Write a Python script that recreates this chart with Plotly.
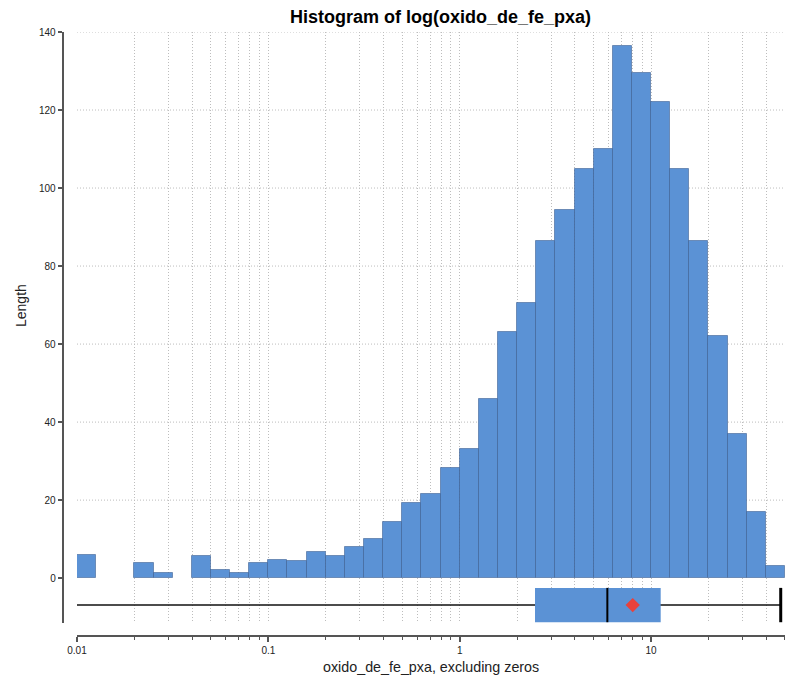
import math
import plotly.graph_objects as go

# ---- data (histogram of log10 values, 0.1-decade bins starting at 0.01) ----
bin_start_log = -2.0
bin_width_log = 0.1
bar_values = [6.0, 0, 0, 3.9, 1.3, 0, 5.6, 2.0, 1.3, 3.8,
              4.7, 4.4, 6.7, 5.8, 8.0, 10.0, 14.4, 19.3, 21.5, 28.3,
              33.0, 46.0, 63.0, 70.5, 86.5, 94.5, 105.0, 110.0, 136.5, 129.5,
              122.0, 105.0, 86.5, 62.0, 37.0, 17.0, 3.0]

# box plot statistics (original units)
box_low = 0.01
box_q1 = 2.475
box_median = 5.91
box_q3 = 11.23
box_high = 47.6
box_mean = 8.02

x_tick_labels = ["0.01", "0.1", "1", "10"]
x_tick_values = [0.01, 0.1, 1, 10]
y_tick_values = [0, 20, 40, 60, 80, 100, 120, 140]
y_grid_values = [20, 40, 60, 80, 100, 120, 140]

BLUE = "#5b92d5"
EDGE = "rgba(55,90,140,0.55)"
GRID = "#bdbdbd"
GRID_DASH = "1px,2px"
AXIS = "#555555"
FONT = "Liberation Sans, Arial, sans-serif"

centers = [bin_start_log + bin_width_log * (i + 0.5) for i in range(len(bar_values))]
plot_vals = [v if v > 0 else None for v in bar_values]

box_y = -6.9
box_half = 4.4

fig = go.Figure()
fig.add_trace(go.Bar(
    x=centers, y=plot_vals, width=bin_width_log,
    marker=dict(color=BLUE, line=dict(color=EDGE, width=1)),
    hoverinfo="skip", showlegend=False))

lg = math.log10
# whisker line
fig.add_trace(go.Scatter(
    x=[lg(box_low), lg(box_high)], y=[box_y, box_y], mode="lines",
    line=dict(color="#111111", width=1.5), showlegend=False, hoverinfo="skip"))
# box body
fig.add_trace(go.Scatter(
    x=[lg(box_q1), lg(box_q3), lg(box_q3), lg(box_q1), lg(box_q1)],
    y=[box_y - box_half, box_y - box_half, box_y + box_half, box_y + box_half, box_y - box_half],
    mode="lines", fill="toself", fillcolor=BLUE, line=dict(width=0, color=BLUE),
    showlegend=False, hoverinfo="skip"))
# median
fig.add_trace(go.Scatter(
    x=[lg(box_median), lg(box_median)], y=[box_y - box_half, box_y + box_half],
    mode="lines", line=dict(color="#000000", width=2), showlegend=False, hoverinfo="skip"))
# upper cap
fig.add_trace(go.Scatter(
    x=[lg(box_high), lg(box_high)], y=[box_y - box_half, box_y + box_half],
    mode="lines", line=dict(color="#000000", width=3), showlegend=False, hoverinfo="skip"))
# mean
fig.add_trace(go.Scatter(
    x=[lg(box_mean)], y=[box_y], mode="markers",
    marker=dict(symbol="diamond", size=11, color="#e8413c"),
    showlegend=False, hoverinfo="skip"))

minor_vals = []
for d in range(-2, 2):
    for k in range(2, 10):
        v = lg(k * 10 ** d)
        if v <= 1.7:
            minor_vals.append(v)

shapes = []
for g in y_grid_values:
    shapes.append(dict(type="line", xref="x domain", yref="y", x0=0, x1=1, y0=g, y1=g,
                       line=dict(color=GRID, width=1, dash=GRID_DASH), layer="below"))

# paper geometry (page margin removed by post_script, so figure == window)
OFF = 0
W, H = 787, 678
ml, mr, mt, mb = 40, 2, 32, 36
pw, ph = W - ml - mr, H - mt - mb
paper_bottom = H - mb


def px_x(sx):
    return (sx - OFF - ml) / pw


def px_y(sy):
    return (paper_bottom - (sy - OFF)) / ph


fig.update_layout(
    width=W, height=H,
    margin=dict(l=ml, r=mr, t=mt, b=mb),
    plot_bgcolor="white", paper_bgcolor="white",
    barmode="overlay", bargap=0,
    font=dict(family=FONT, size=10, color="#222222"),
    shapes=shapes,
    hovermode=False,
    xaxis=dict(
        domain=[px_x(77), 1], range=[-2, 1.7], anchor="free", position=px_y(636),
        tickmode="array", tickvals=[lg(v) for v in x_tick_values], ticktext=x_tick_labels,
        ticks="outside", ticklen=5, tickwidth=1.5, tickcolor=AXIS,
        showline=True, linewidth=2, linecolor=AXIS,
        showgrid=True, gridcolor=GRID, griddash=GRID_DASH, gridwidth=1, zeroline=False,
        minor=dict(tickmode="array", tickvals=minor_vals, ticks="outside", ticklen=3,
                   tickwidth=1, tickcolor=AXIS, showgrid=True, gridcolor=GRID,
                   griddash=GRID_DASH, gridwidth=1),
        tickfont=dict(size=10),
    ),
    yaxis=dict(
        domain=[px_y(623), 1], range=[-11.5, 140], anchor="free", position=px_x(62.7),
        tickmode="array", tickvals=y_tick_values,
        ticks="outside", ticklen=4, tickwidth=1.5, tickcolor=AXIS,
        showline=True, linewidth=2, linecolor=AXIS,
        showgrid=False, zeroline=False, tickfont=dict(size=10),
    ),
    annotations=[
        dict(text="<b>Histogram of log(oxido_de_fe_pxa)</b>", xref="paper", yref="paper",
             x=px_x(440), y=px_y(17), showarrow=False,
             font=dict(size=18, color="#000000"), xanchor="center", yanchor="middle"),
        dict(text="Length", xref="paper", yref="paper",
             x=px_x(21), y=px_y(306), showarrow=False, textangle=-90,
             font=dict(size=14, color="#222222"), xanchor="center", yanchor="middle"),
        dict(text="oxido_de_fe_pxa, excluding zeros", xref="paper", yref="paper",
             x=px_x(430.5), y=px_y(667), showarrow=False,
             font=dict(size=14.3, color="#222222"), xanchor="center", yanchor="middle"),
    ],
)

fig.write_html(
    "out.html",
    config={"displayModeBar": False},
    post_script="document.body.style.margin='0';document.body.style.overflow='hidden';",
)
